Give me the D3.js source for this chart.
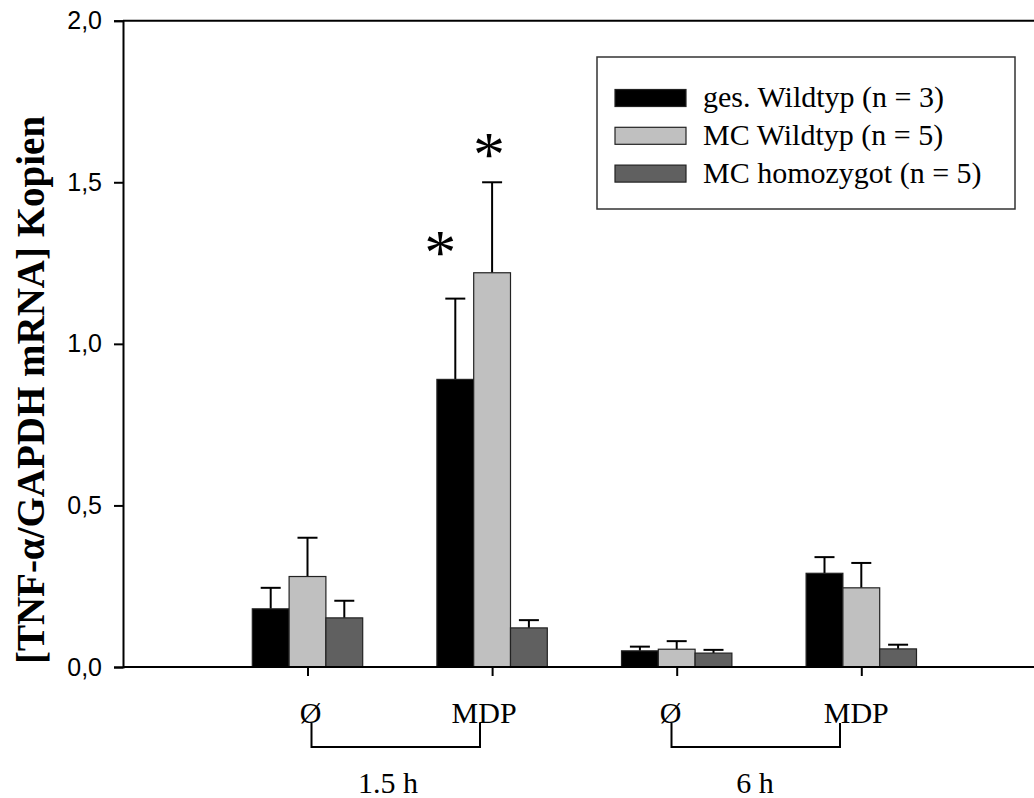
<!DOCTYPE html>
<html>
<head>
<meta charset="utf-8">
<script src="https://cdn.jsdelivr.net/npm/d3@7"></script>
<style>
  html, body { margin: 0; padding: 0; background: #fff; }
  svg { display: block; }
</style>
</head>
<body>
<svg id="chart" width="1034" height="798"></svg>
<script>
// data
const categories = ["Ø", "MDP", "Ø", "MDP"];
const timeGroups = ["1.5 h", "6 h"];
const seriesNames = ["ges. Wildtyp (n = 3)", "MC Wildtyp (n = 5)", "MC homozygot (n = 5)"];
const gesWildtyp = [0.18, 0.89, 0.05, 0.29];
const gesWildtypErr = [0.065, 0.25, 0.013, 0.05];
const mcWildtyp = [0.28, 1.22, 0.055, 0.245];
const mcWildtypErr = [0.12, 0.28, 0.025, 0.077];
const mcHomozygot = [0.152, 0.121, 0.043, 0.056];
const mcHomozygotErr = [0.053, 0.024, 0.01, 0.013];
const yTicks = [0, 0.5, 1.0, 1.5, 2.0];
const sigMarks = [{cat: 1, ser: 0}, {cat: 1, ser: 1}];

const COLORS = ["#000000", "#c0c0c0", "#606060"];

// layout
const W = 1034, H = 798;
const X0 = 123, Y0 = 667, YTOP = 20.7;
const BAR_W = 36.8;
const CAP_W = 20;
const LABEL_DX = [3, -8, -6, -5];
const BRACKET_X = [[311.5, 480], [671.5, 840]];
const STAR_DX = [-15, -3];
const STAR_DY = [55, 36];
const STAR_FS = 64;

const svg = d3.select("#chart");

const y = d3.scaleLinear().domain([0, 2]).range([Y0, YTOP]);
const x = d3.scalePoint().domain(d3.range(categories.length)).range([307.5, 861.3]);
const xs = d3.scaleBand().domain(d3.range(seriesNames.length))
    .range([-1.5 * BAR_W, 1.5 * BAR_W]);

const series = [
    {vals: gesWildtyp, err: gesWildtypErr},
    {vals: mcWildtyp, err: mcWildtypErr},
    {vals: mcHomozygot, err: mcHomozygotErr}
];

const rows = [];
series.forEach((s, si) => {
    s.vals.forEach((v, ci) => rows.push({si, ci, v, e: s.err[ci]}));
});

// error bars (upper only), drawn under bars
const eb = svg.append("g").attr("stroke", "#000").attr("stroke-width", 2);
eb.selectAll("line.stem").data(rows).enter().append("line")
    .attr("x1", d => x(d.ci) + xs(d.si) + BAR_W / 2)
    .attr("x2", d => x(d.ci) + xs(d.si) + BAR_W / 2)
    .attr("y1", d => y(d.v))
    .attr("y2", d => y(d.v + d.e));
eb.selectAll("line.cap").data(rows).enter().append("line")
    .attr("x1", d => x(d.ci) + xs(d.si) + BAR_W / 2 - CAP_W / 2)
    .attr("x2", d => x(d.ci) + xs(d.si) + BAR_W / 2 + CAP_W / 2)
    .attr("y1", d => y(d.v + d.e))
    .attr("y2", d => y(d.v + d.e));

// bars
svg.append("g").selectAll("rect").data(rows).enter().append("rect")
    .attr("x", d => x(d.ci) + xs(d.si))
    .attr("y", d => y(d.v))
    .attr("width", BAR_W)
    .attr("height", d => Y0 - y(d.v))
    .attr("fill", d => COLORS[d.si])
    .attr("stroke", "#222")
    .attr("stroke-width", 1.2);

// axes frame
const axG = svg.append("g").attr("stroke", "#000").attr("stroke-width", 2);
axG.append("line").attr("x1", X0).attr("x2", W).attr("y1", YTOP).attr("y2", YTOP);
axG.append("line").attr("x1", X0).attr("x2", W).attr("y1", Y0).attr("y2", Y0);

const yAxis = svg.append("g")
    .attr("transform", `translate(${X0},0)`)
    .call(d3.axisLeft(y).tickValues(yTicks).tickSize(9).tickPadding(12)
        .tickFormat(d => d3.format(".1f")(d).replace(".", ",")));
yAxis.select(".domain").attr("stroke-width", 2);
yAxis.selectAll(".tick line").attr("stroke-width", 2);
yAxis.selectAll(".tick text")
    .attr("font-family", "'Liberation Sans', Arial, sans-serif")
    .attr("font-size", 25)
    .attr("fill", "#000");

const xAxis = svg.append("g")
    .attr("transform", `translate(0,${Y0})`)
    .call(d3.axisBottom(x).tickSize(9).tickFormat(""));
xAxis.select(".domain").remove();
xAxis.selectAll(".tick line").attr("stroke-width", 2);

// category labels
svg.append("g").selectAll("text").data(categories).enter().append("text")
    .attr("x", (d, i) => x(i) + LABEL_DX[i])
    .attr("y", 723)
    .attr("text-anchor", "middle")
    .attr("font-family", "'Liberation Serif', 'Times New Roman', serif")
    .attr("font-size", 30)
    .text(d => d);

// brackets joining the two treatments at each time point
const brG = svg.append("g").attr("fill", "none").attr("stroke", "#000").attr("stroke-width", 2);
timeGroups.forEach((t, gi) => {
    const [a, b] = BRACKET_X[gi];
    brG.append("path").attr("d", `M${a},723V747H${b}V723`);
    svg.append("text")
        .attr("x", gi === 0 ? 388 : 755)
        .attr("y", 793)
        .attr("text-anchor", "middle")
        .attr("font-family", "'Liberation Serif', 'Times New Roman', serif")
        .attr("font-size", 30)
        .text(t);
});

// significance stars
svg.append("g").selectAll("text").data(sigMarks).enter().append("text")
    .attr("x", (d, i) => x(d.cat) + xs(d.ser) + BAR_W / 2 + STAR_DX[i])
    .attr("y", (d, i) => {
        const s = series[d.ser];
        return y(s.vals[d.cat] + s.err[d.cat]) - STAR_DY[i] + 0.47 * STAR_FS;
    })
    .attr("text-anchor", "middle")
    .attr("font-family", "'Liberation Serif', 'Times New Roman', serif")
    .attr("font-size", STAR_FS)
    .text("*");

// y title
svg.append("text")
    .attr("transform", "translate(44,390) rotate(-90)")
    .attr("text-anchor", "middle")
    .attr("font-family", "'Liberation Serif', 'Times New Roman', serif")
    .attr("font-weight", "bold")
    .attr("font-size", 39)
    .text("[TNF-α/GAPDH mRNA] Kopien");

// legend
const lg = svg.append("g");
lg.append("rect")
    .attr("x", 597).attr("y", 57).attr("width", 418).attr("height", 152)
    .attr("fill", "#fff").attr("stroke", "#333").attr("stroke-width", 1.5);
seriesNames.forEach((name, i) => {
    const cy = 98 + i * 37.8;
    lg.append("rect")
        .attr("x", 615).attr("y", cy - 8.5).attr("width", 71).attr("height", 17)
        .attr("fill", COLORS[i]).attr("stroke", "#222").attr("stroke-width", 1.2);
    lg.append("text")
        .attr("x", 703).attr("y", cy + 9)
        .attr("font-family", "'Liberation Serif', 'Times New Roman', serif")
        .attr("font-size", 30)
        .text(name);
});
</script>
</body>
</html>
